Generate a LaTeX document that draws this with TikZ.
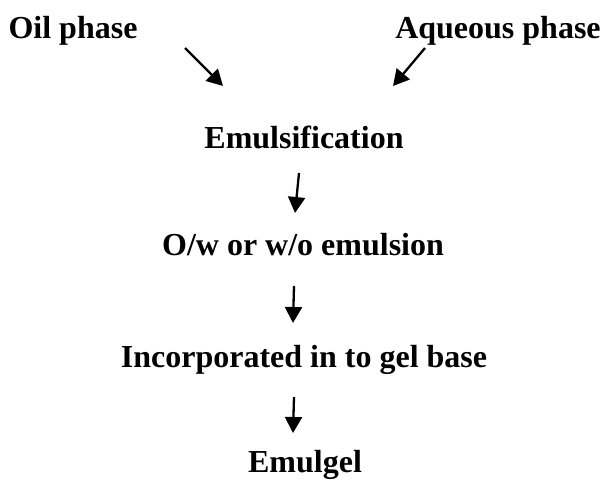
\documentclass[tikz,border=0pt]{standalone}
\usepackage{fontspec}
\setmainfont{Liberation Serif}
\usetikzlibrary{arrows.meta}
\begin{document}
\begin{tikzpicture}[x=1pt,y=-1pt,
  lbl/.style={inner sep=0pt,anchor=base,font=\fontsize{32}{36}\selectfont\bfseries},
  arr/.style={line width=2.3pt,-{Triangle[length=16pt,width=17pt]}}]
\useasboundingbox (0,0) rectangle (601,482);
\node[lbl] (oil) at (73,38) {Oil phase};
\node[lbl] (aq) at (498,38) {Aqueous phase};
\node[lbl] (emu) at (304,148) {Emulsification};
\node[lbl] (ow) at (303,255) {O/w or w/o emulsion};
\node[lbl] (inc) at (304,367) {Incorporated in to gel base};
\node[lbl] (gel) at (305,472) {Emulgel};
\coordinate (a1s) at (185,48); \coordinate (a1e) at (223,86);
\coordinate (a2s) at (425,48); \coordinate (a2e) at (393,86);
\coordinate (a3s) at (299,173); \coordinate (a3e) at (295,213);
\coordinate (a4s) at (294,286); \coordinate (a4e) at (293,323);
\coordinate (a5s) at (294,397); \coordinate (a5e) at (293,433);
\draw[arr] (a1s) -- (a1e);
\draw[arr] (a2s) -- (a2e);
\draw[arr] (a3s) -- (a3e);
\draw[arr] (a4s) -- (a4e);
\draw[arr] (a5s) -- (a5e);
\end{tikzpicture}
\end{document}
